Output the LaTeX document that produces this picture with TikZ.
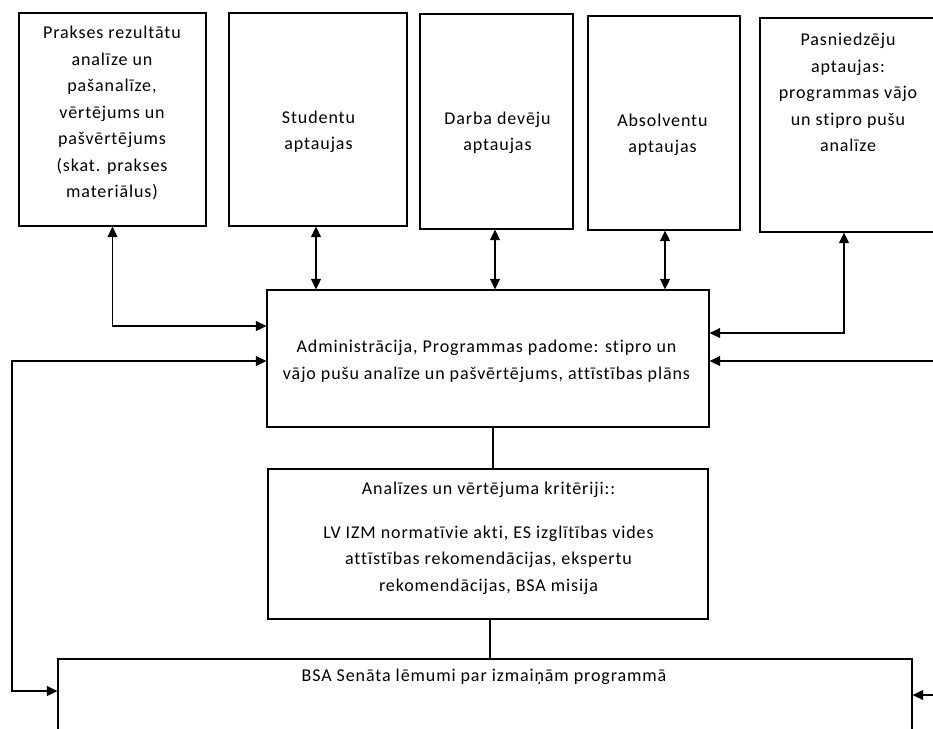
\documentclass[tikz,border=0pt]{standalone}
\usepackage{fontspec}
\setmainfont[LetterSpace=5,Ligatures={NoCommon}]{Carlito}
\usetikzlibrary{arrows.meta}
\begin{document}
\begin{tikzpicture}[x=1pt,y=-1pt,
  box/.style={draw=black, line width=1.3pt, inner sep=0pt},
  txt/.style={align=center, inner sep=0pt, font=\fontsize{18pt}{26.5pt}\selectfont},
  con/.style={draw=black, line width=1.3pt},
  one/.style={con, -{Triangle[length=10.5pt,width=10pt]}},
  two/.style={con, {Triangle[length=10.5pt,width=10pt]}-{Triangle[length=10.5pt,width=10pt]}}]
\useasboundingbox (0,0) rectangle (933,728);
\clip (0,0) rectangle (933,728);
% boxes
\node[box, minimum width=187pt, minimum height=213pt] (b1) at (112.5,119.5) {};
\node[box, minimum width=178pt, minimum height=213pt] (b2) at (318,119.5) {};
\node[box, minimum width=153pt, minimum height=215pt] (b3) at (496.5,121.5) {};
\node[box, minimum width=152pt, minimum height=214pt] (b4) at (664,123) {};
\node[box, minimum width=176pt, minimum height=214pt] (b5) at (848,125) {};
\node[box, minimum width=442pt, minimum height=137pt] (a) at (488,358.5) {};
\node[box, minimum width=440pt, minimum height=150pt] (k) at (488,544) {};
\node[box, minimum width=854pt, minimum height=101pt] (s) at (485,709.5) {};
% texts
\node[txt] (t1) at (112,113) {Prakses rezultātu\\analīze un\\pašanalīze,\\vērtējums  un\\pašvērtējums\\(skat. prakses\\materiālus)};
\node[txt] (t2) at (318.5,132) {Studentu\\aptaujas};
\node[txt] (t3) at (497.5,133) {Darba devēju\\aptaujas};
\node[txt] (t4) at (662.5,135) {Absolventu\\aptaujas};
\node[txt] (t5) at (848,92.5) {Pasniedzēju\\aptaujas:\\programmas vājo\\un stipro pušu\\analīze};
\node[txt] (ta) at (486.5,361.5) {Administrācija, Programmas padome: stipro un\\vājo pušu analīze un pašvērtējums, attīstības plāns};
\node[txt] (tk) at (488.5,538) {Analīzes un vērtējuma kritēriji::\\[17.5pt]LV IZM normatīvie akti, ES izglītības vides\\attīstības rekomendācijas, ekspertu\\rekomendācijas, BSA misija};
\node[txt] (ts) at (484,677) {BSA Senāta lēmumi par izmaiņām programmā};
% connectors
\draw[two] (b1.south) |- ([yshift=32.5pt]a.west);
\draw[two] ([xshift=-2pt]b2.south) -- ([xshift=-2pt]b2.south |- a.north);
\draw[two] ([xshift=-1.5pt]b3.south) -- ([xshift=-1.5pt]b3.south |- a.north);
\draw[two] ([xshift=1pt]b4.south) -- ([xshift=1pt]b4.south |- a.north);
\draw[two] ([xshift=-4pt]b5.south) |- ([yshift=25.5pt]a.east);
\coordinate (L1) at (12,361);
\coordinate (L2) at (12,691);
\coordinate (R1) at (950,361);
\coordinate (R2) at (950,695);
\draw[two] (L1 -| a.west) -- (L1) -- (L2) -- (L2 -| s.west);
\draw[two] (R1 -| a.east) -- (R1) -- (R2) -- (R2 -| s.east);
\draw[con] ([xshift=5pt]a.south) -- ([xshift=5pt]a.south |- k.north);
\draw[con] ([xshift=2pt]k.south) -- ([xshift=2pt]k.south |- s.north);
\end{tikzpicture}
\end{document}
